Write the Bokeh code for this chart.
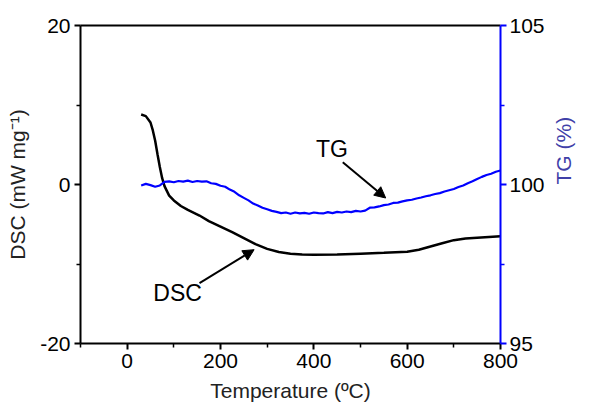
import math
from bokeh.plotting import figure
from bokeh.models import (LinearAxis, Range1d, FixedTicker,
                          Arrow, NormalHead, Label)
from bokeh.embed import file_html
from bokeh.resources import INLINE

# ---- data ----
tg_temp = list(range(30, 801, 10))
tg_vals = [99.97, 100.02, 99.98, 99.93, 99.97, 100.08, 100.10, 100.07, 100.11, 100.09,
           100.12, 100.08, 100.11, 100.09, 100.10, 100.04, 100.02, 99.96, 99.93, 99.84,
           99.77, 99.66, 99.58, 99.50, 99.40, 99.34, 99.27, 99.22, 99.17, 99.14,
           99.10, 99.12, 99.08, 99.12, 99.09, 99.11, 99.08, 99.12, 99.10, 99.09,
           99.13, 99.10, 99.14, 99.12, 99.15, 99.13, 99.17, 99.15, 99.18, 99.27,
           99.28, 99.31, 99.35, 99.37, 99.42, 99.43, 99.47, 99.50, 99.52, 99.56,
           99.59, 99.63, 99.66, 99.70, 99.73, 99.78, 99.82, 99.86, 99.92, 99.97,
           100.04, 100.10, 100.17, 100.24, 100.30, 100.34, 100.40, 100.44]

dsc_temp = [30, 40, 50, 55, 60, 65, 70, 75, 80, 90, 100, 115, 130, 155, 175, 200, 225,
            250, 275, 300, 325, 350, 375, 400, 450, 500, 550, 600, 625, 650, 675, 700,
            725, 750, 775, 800]
dsc_vals = [8.8, 8.6, 7.8, 6.8, 5.5, 3.8, 2.2, 0.8, -0.2, -1.4, -2.0, -2.7, -3.2, -3.9,
            -4.6, -5.3, -6.0, -6.75, -7.5, -8.1, -8.5, -8.7, -8.8, -8.85, -8.8, -8.7,
            -8.6, -8.45, -8.2, -7.8, -7.4, -7.0, -6.8, -6.7, -6.6, -6.5]

x_ticks = [0, 200, 400, 600, 800]
dsc_ticks = [-20, 0, 20]
dsc_tick_labels = {-20: "-20", 0: "0", 20: "20"}
tg_ticks = [95, 100, 105]

FONT = "Liberation Sans"

p = figure(width=589, height=409, output_backend="svg", toolbar_location=None,
           x_range=Range1d(-100, 800), y_range=Range1d(-20, 20),
           min_border_left=80, min_border_right=86, min_border_top=25,
           min_border_bottom=66)
p.extra_y_ranges = {"tg": Range1d(95, 105)}
p.grid.visible = False
p.outline_line_color = None
p.background_fill_color = "white"
p.border_fill_color = "white"

def style(ax, color="black"):
    ax.axis_line_color = color
    ax.axis_line_width = 2
    ax.major_tick_line_color = color
    ax.minor_tick_line_color = color
    ax.major_tick_line_width = 2
    ax.minor_tick_line_width = 1.5
    ax.major_tick_out = 6
    ax.major_tick_in = 0
    ax.minor_tick_out = 4
    ax.minor_tick_in = 0
    ax.major_label_text_font = FONT
    ax.major_label_text_font_size = "21px"
    ax.major_label_text_color = "black"
    ax.axis_label_text_font = FONT
    ax.axis_label_text_font_size = "21px"
    ax.axis_label_text_font_style = "normal"

xa = p.xaxis[0]
style(xa)
xa.ticker = FixedTicker(ticks=x_ticks, minor_ticks=[-100, 100, 300, 500, 700])
xa.axis_label = "Temperature (ºC)"
xa.axis_label_text_color = "#222222"
xa.major_label_standoff = 4
xa.axis_label_standoff = 8

ya = p.yaxis[0]
style(ya)
ya.ticker = FixedTicker(ticks=dsc_ticks, minor_ticks=[-10, 10])
ya.major_label_overrides = dsc_tick_labels
ya.axis_label = "DSC (mW mg⁻¹)"
ya.axis_label_text_color = "#222222"
ya.major_label_standoff = 4
ya.axis_label_standoff = 8

ra = LinearAxis(y_range_name="tg")
style(ra, "#0000FF")
ra.ticker = FixedTicker(ticks=tg_ticks, minor_ticks=[97.5, 102.5])
ra.axis_label = "TG (%)"
ra.axis_label_text_color = "#4040A8"
ra.axis_label_orientation = math.pi / 2
ra.major_label_standoff = 3
ra.axis_label_standoff = 16
p.add_layout(ra, "right")

ta = LinearAxis(ticker=FixedTicker(ticks=[]))
ta.axis_line_color = "black"
ta.axis_line_width = 2
ta.major_tick_line_color = None
ta.minor_tick_line_color = None
p.add_layout(ta, "above")

p.line(dsc_temp, dsc_vals, line_color="black", line_width=2.5)
p.line(tg_temp, tg_vals, line_color="#0000FF", line_width=2.2, y_range_name="tg")

p.add_layout(Arrow(end=NormalHead(size=11, fill_color="black", line_color="black"),
                   x_start=462, y_start=2.8, x_end=554, y_end=-1.7,
                   line_color="black", line_width=2))
p.add_layout(Arrow(end=NormalHead(size=11, fill_color="black", line_color="black"),
                   x_start=155, y_start=-12.4, x_end=272, y_end=-8.2,
                   line_color="black", line_width=2))
p.add_layout(Label(x=439, y=4.5, text="TG", text_align="center", text_baseline="middle",
                   text_font=FONT, text_font_size="23px", text_color="black"))
p.add_layout(Label(x=108, y=-13.6, text="DSC", text_align="center", text_baseline="middle",
                   text_font=FONT, text_font_size="23px", text_color="black"))

open("out.html", "w").write(file_html(p, INLINE))
